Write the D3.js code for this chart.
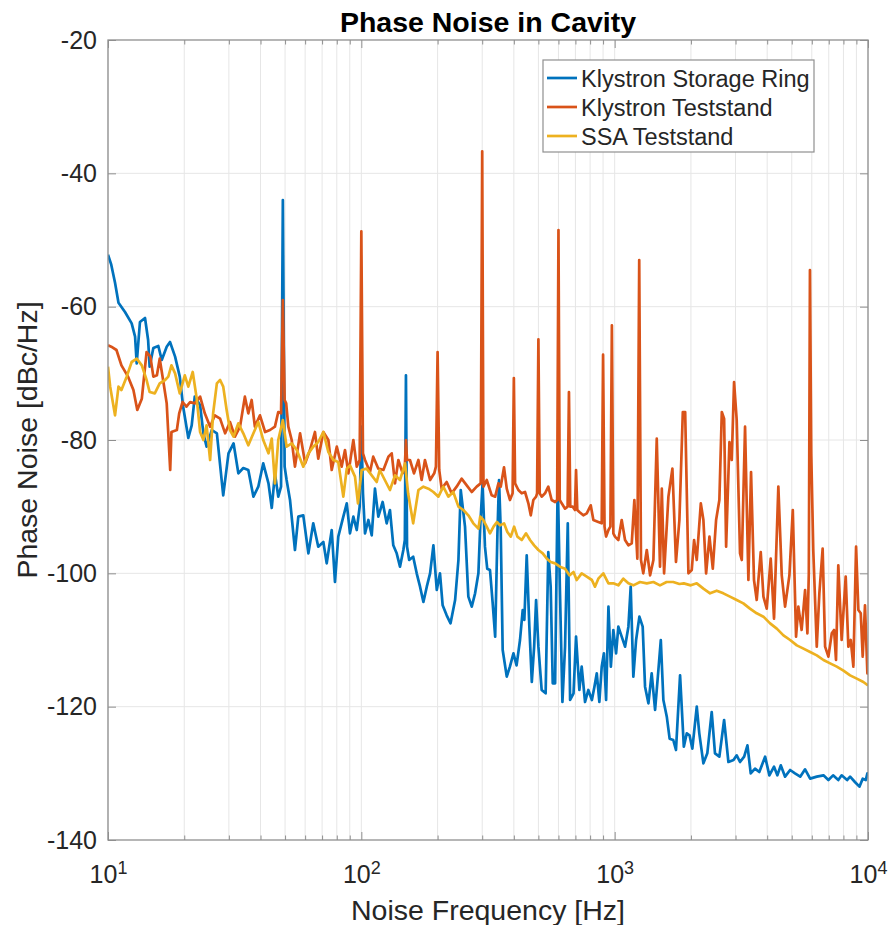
<!DOCTYPE html>
<html>
<head>
<meta charset="utf-8">
<script src="https://cdn.jsdelivr.net/npm/d3@7"></script>
<style>
  body { margin: 0; background: #fff; }
  svg { font-family: "Liberation Sans", Arial, Helvetica, sans-serif; }
</style>
</head>
<body>
<div id="chart"></div>
<script>
// frequency [Hz], phase noise [dBc/Hz]
var klystronRing = [
  [10, -52.2], [10.3, -53.7], [10.66, -56.4], [11.0, -59.4], [11.67, -60.8], [12.4, -62.5], [12.79, -64.5],
  [12.98, -68.5], [13.37, -62.3], [14.0, -61.7], [14.4, -65], [14.6, -69], [15.1, -66.2], [15.8, -65.9],
  [16.3, -68], [17.05, -66], [17.57, -65.3], [18.4, -67.5], [19.2, -70.5], [19.8, -75], [20.75, -79.7],
  [21.4, -77.8], [22.0, -73.5], [23.1, -74.8], [23.8, -79], [24.5, -81], [25.7, -78.5], [26.9, -79],
  [28.5, -88.3], [29.9, -82], [31.3, -80.5], [32.7, -85], [34.2, -84.2], [35.8, -84.5], [37.5, -88.5],
  [39.2, -87], [41.0, -83.5], [43.0, -86.5], [44.3, -90.2], [45.6, -85], [47.0, -88.5], [48.2, -87],
  [49, -44], [49.8, -84], [50.7, -86], [52.3, -89], [54.7, -96.5], [56.4, -91.5], [59.0, -91.3],
  [61.8, -97], [64.6, -92.5], [67.6, -96], [70.8, -95.3], [73.0, -98.5], [76.4, -93.5], [78.7, -101.3],
  [81.1, -94.5], [84.9, -91.5], [87.6, -89.5], [90.2, -94], [93.0, -91.5], [95.9, -93.5], [98.5, -90],
  [100, -78], [101.5, -88], [103.4, -94], [106.6, -92], [109.9, -94.3], [113.2, -87.3], [116.7, -91.5],
  [121.4, -89.3], [125.9, -92.5], [129.7, -90.5], [133.7, -95.8], [137.9, -97], [142.1, -99], [146.5, -96.5],
  [148.5, -95], [150, -70.3], [151.5, -96], [154.5, -98], [160.2, -97.5], [165.4, -100], [170.5, -102],
  [175.8, -104.3], [181.3, -102], [186.8, -100], [192.5, -95.8], [198.5, -102.5], [204.4, -100], [209.4, -104.8],
  [217.2, -106.3], [225, -107.5], [234.5, -104], [241.7, -98], [246.8, -87.5], [256.6, -93], [264.5, -103.5],
  [272.8, -105], [281.2, -103], [289.8, -100], [294.6, -93], [301, -86.5], [307.6, -96], [314, -99.3],
  [322, -99.5], [330, -104.5], [337.5, -109.5], [344.5, -94], [349.6, -86], [355, -93.5], [361.4, -111.5],
  [375, -115.5], [386, -114], [398.5, -112], [410, -113.8], [423, -110], [433.5, -105.5], [440, -107],
  [449.6, -97.3], [460.5, -108], [470.9, -116.3], [481, -111], [489.6, -104], [500, -111], [515, -117.5],
  [534, -118], [547, -96.8], [559, -102], [569.6, -116.5], [582, -116.5], [596, -86], [608, -102.5],
  [622, -119.3], [637, -111], [653, -92.5], [667, -119], [688, -118], [704, -109.5], [725.5, -117.5],
  [741, -114], [764, -119.3], [787, -117.5], [813, -119], [832, -117], [850, -115], [870, -119.3],
  [889, -114], [907, -112], [925, -119], [945, -105], [966, -114], [988, -108.5], [1013, -112],
  [1034, -108], [1066, -109.5], [1099, -111], [1133, -108], [1157, -102], [1185, -115.5], [1215, -110],
  [1252, -106.5], [1290, -108], [1318, -117], [1359, -119.5], [1400, -115], [1444, -120.5], [1488, -114.5],
  [1521, -110], [1557, -119], [1606, -121.5], [1648, -124.8], [1703, -125], [1746, -126.5], [1812, -115.3],
  [1875, -126], [1926, -124], [1975, -124.3], [2026, -126.3], [2109, -120], [2158, -124], [2240, -128.5],
  [2321, -127], [2416, -120.8], [2489, -127], [2590, -127.5], [2704, -122], [2812, -128.3], [2945, -128],
  [3032, -127.3], [3125, -128.3], [3245, -127.5], [3343, -125.8], [3444, -130], [3581, -129.3], [3723, -129.8],
  [3925, -127.5], [4080, -130.3], [4257, -129], [4387, -130.3], [4525, -128.8], [4706, -130.5], [4927, -129.5],
  [5150, -130], [5400, -130.5], [5645, -129.4], [5910, -130.8], [6280, -130.5], [6672, -130.3], [6977, -131],
  [7280, -130.3], [7634, -131], [7870, -130.3], [8270, -131], [8500, -130.5], [8880, -131.3], [9250, -132],
  [9530, -130.8], [9800, -131], [9945, -130], [10000, -130.5]
];

var klystronTeststand = [
  [10, -65.8], [10.3, -66], [10.8, -66.5], [11.3, -68.8], [12.0, -70.5], [12.6, -72.5], [13.05, -75.5],
  [13.6, -73.8], [14.2, -66.8], [14.7, -67.5], [15.1, -70.5], [15.6, -70.3], [16.0, -67.8], [16.5, -71],
  [17.05, -74.5], [17.6, -84.5], [17.8, -78.8], [18.7, -78.5], [19.1, -76], [19.7, -74.3], [20.4, -75],
  [21.1, -74.3], [22.0, -74.5], [23.1, -73.5], [24.1, -76], [25.3, -78], [26.4, -76.3], [27.7, -76.8],
  [29.0, -79], [30.3, -77.3], [31.7, -79.5], [33.2, -78], [34.7, -73.5], [35.8, -76], [36.9, -74],
  [38.0, -78], [39.8, -76.3], [41.7, -78.8], [43.6, -78.5], [45.6, -78], [47.0, -75.8], [48.2, -76],
  [49, -59], [49.8, -74], [50.5, -74.5], [51.5, -78], [53.1, -80], [54.7, -84], [57.3, -79],
  [60.0, -83.5], [62.7, -81.5], [65.6, -78.8], [67.6, -82.8], [70.8, -78.8], [74.1, -80], [76.4, -84.5],
  [80.0, -81], [83.6, -84], [86.2, -81.5], [88.9, -85], [93.0, -80], [95.9, -84], [98.5, -83],
  [100, -48.7], [101.5, -82], [103.4, -83], [108.2, -84.8], [111.4, -82.5], [116.7, -84.3], [122.2, -84.5],
  [127.9, -82.5], [131.8, -82], [135.8, -86.5], [140.0, -83], [145.6, -85], [148.5, -84], [150, -80],
  [151.5, -83], [155.6, -83], [161.4, -85], [168.0, -83], [173.0, -86], [178.3, -83], [186.8, -86],
  [194, -85], [197, -84], [200, -66.8], [203, -84.5], [207.5, -87.3], [217.2, -86.3], [227.3, -88],
  [237.8, -87], [248.8, -85.8], [260.6, -86.8], [272.8, -87.8], [285.3, -87], [296, -86.5], [300, -36.7],
  [303.5, -87], [312.6, -86], [327, -88.3], [337.5, -88.5], [347.7, -86.5], [355, -87], [365.8, -84.1],
  [375, -87.3], [386, -89], [395.5, -88], [400, -70.7], [404.5, -86.5], [416.8, -87.5], [429.7, -88],
  [442.8, -87.8], [456.4, -89.5], [466.5, -91.3], [477.5, -89], [489.6, -88.5], [494, -88], [500, -64.9],
  [506, -88], [515, -88.5], [531, -88], [547, -87], [564, -89], [582, -89.3], [593, -89],
  [600, -48.5], [607, -89], [618, -89.5], [637, -90.3], [652, -90], [660, -72.8], [668, -90],
  [683, -90], [697, -90.5], [704, -84.5], [712, -90.5], [725.5, -90.8], [752, -91.3], [776, -91],
  [804.5, -89.8], [824, -92], [862, -92.3], [889, -92.5], [900, -67.2], [912, -93], [925, -94.5],
  [945, -93.5], [962, -93], [975, -62.8], [988, -94], [1003, -94.5], [1034, -95], [1066, -92],
  [1099, -95], [1133, -95.8], [1168, -95.5], [1196, -89], [1229, -97.8], [1250, -53], [1270, -98],
  [1297, -100], [1339, -96.5], [1380, -100.3], [1422, -98], [1466, -79.8], [1510, -99], [1535, -87.3],
  [1567, -100], [1630, -88.5], [1690, -84.3], [1746, -98.3], [1801, -92], [1858, -75.8], [1898, -75.8],
  [1955, -100], [2015, -99.5], [2058, -95], [2109, -98], [2188, -89.5], [2240, -92], [2296, -100],
  [2367, -94.5], [2440, -99.3], [2514, -92], [2590, -89], [2648, -75.8], [2704, -76.8], [2754, -96],
  [2838, -80.3], [2899, -83], [2960, -71.3], [3032, -77], [3125, -97], [3175, -98], [3271, -78],
  [3372, -101], [3454, -84.8], [3548, -101], [3637, -104], [3772, -96.8], [3866, -103.5], [3984, -105.3],
  [4130, -97.8], [4257, -106.8], [4427, -87], [4566, -100.3], [4706, -105], [4895, -100.3], [5048, -90.5],
  [5200, -109.5], [5310, -105], [5470, -108.5], [5645, -102.5], [5765, -109], [5840, -100], [5900, -54.5],
  [5970, -82], [6080, -96.5], [6277, -111], [6427, -103], [6622, -96.3], [6771, -111], [6977, -112.5],
  [7194, -109], [7347, -108.5], [7477, -113], [7634, -98.8], [7870, -110], [8165, -100.5], [8364, -111],
  [8550, -110], [8755, -114], [8973, -96], [9161, -105.5], [9363, -106], [9530, -112.5], [9730, -104.8],
  [9945, -115], [10000, -113.8]
];

var ssaTeststand = [
  [10, -69], [10.2, -72], [10.66, -76.3], [11.0, -72], [11.3, -72.5], [11.85, -70.5], [12.4, -68.3],
  [12.98, -67.8], [13.6, -68.8], [14.2, -71], [14.6, -72.8], [15.3, -73], [16.0, -71.5], [16.8, -71],
  [17.3, -70.5], [17.8, -68.8], [18.4, -70], [19.2, -73], [20.1, -70.3], [20.75, -72], [21.6, -69.8],
  [22.4, -73.8], [23.1, -78.8], [23.8, -80], [24.5, -77.8], [25.3, -83], [26.0, -76], [26.9, -71.5],
  [27.7, -71], [28.5, -72], [29.4, -75.5], [30.3, -78.5], [31.3, -79.5], [32.7, -77.5], [34.2, -79],
  [35.8, -80.8], [37.5, -79], [39.2, -77.3], [41.0, -80], [43.0, -82], [44.3, -79.8], [45.6, -86.5],
  [47.0, -80], [49, -77], [50.7, -81], [53.1, -80.5], [55.6, -81.5], [59.0, -84], [61.8, -82],
  [64.6, -81], [67.6, -80.3], [70.8, -78.8], [74.1, -81.8], [77.6, -83], [81.1, -83.3], [84.9, -88.5],
  [87.6, -84.3], [90.2, -83.8], [94.4, -85.5], [97.0, -89.5], [100.3, -84.5], [104.9, -84.3], [109.9, -85.3],
  [115.0, -86.3], [118.2, -84.5], [123.8, -86], [129.7, -87.5], [135.8, -85.3], [142.1, -86], [148.8, -83.5],
  [153.0, -88], [160.2, -92.5], [168.0, -87.5], [175.8, -87], [184.0, -87.3], [192.5, -87.8], [201.5, -88.5],
  [210.6, -87], [220.5, -88.5], [230.6, -87.8], [241.7, -90], [252.7, -90.5], [264.5, -91.3], [276.7, -92.5],
  [289.8, -93.3], [294.6, -91.5], [303, -92], [312.6, -93], [322, -94], [332.6, -93], [343, -92.3],
  [352.8, -92.8], [365.8, -92.5], [377, -93.8], [389, -94.5], [401, -93], [413, -94.5], [429.7, -95],
  [447, -94], [463.4, -95], [481, -95.8], [500, -96.5], [520, -97], [540, -97.8], [559, -98.3],
  [582, -98.5], [608, -99], [637, -99.3], [663, -100.3], [688, -99.8], [708, -101], [741, -100],
  [776, -100.5], [813, -101], [836, -102], [862, -100.8], [902, -100], [945, -101.5], [988, -101.5],
  [1034, -101.8], [1082, -100.8], [1133, -101.5], [1185, -101.8], [1259, -101.3], [1339, -101.5], [1422, -101.3],
  [1510, -101.8], [1603, -101.3], [1703, -101.3], [1801, -101.6], [1875, -101.5], [1998, -101.8], [2109, -101.5],
  [2240, -102.3], [2380, -103], [2528, -102.6], [2686, -103], [2852, -103.5], [3032, -104], [3220, -104.5],
  [3420, -105.3], [3637, -106], [3866, -106.5], [4107, -107.5], [4365, -108.3], [4637, -109.3], [4927, -110],
  [5236, -110.8], [5563, -111.3], [5910, -111.8], [6280, -112.3], [6672, -113], [7088, -113.5], [7530, -114],
  [8000, -114.6], [8500, -115.3], [9030, -115.8], [9590, -116.3], [10000, -116.8]
];

var seriesNames = ["Klystron Storage Ring", "Klystron Teststand", "SSA Teststand"];
var seriesColors = ["#0072BD", "#D95319", "#EDB120"];
var xTickValues = [10, 100, 1000, 10000];
var yTickValues = [-140, -120, -100, -80, -60, -40, -20];

var W = 891, H = 925;
var plotL = 108, plotR = 868, plotT = 40, plotB = 840;
var axisColor = "#8f8f8f", textColor = "#262626", gridColor = "#e6e6e6";

var svg = d3.select("#chart").append("svg").attr("width", W).attr("height", H);

var x = d3.scaleLog().domain([10, 10000]).range([plotL, plotR]);
var y = d3.scaleLinear().domain([-140, -20]).range([plotB, plotT]);
var minorTicks = x.ticks().filter(function(d){ return xTickValues.indexOf(d) < 0; });

// grid
var grid = svg.append("g");
grid.selectAll("line.gx")
  .data(x.ticks())
  .enter().append("line")
    .attr("x1", function(d){ return x(d); }).attr("x2", function(d){ return x(d); })
    .attr("y1", plotT).attr("y2", plotB)
    .attr("stroke", gridColor).attr("stroke-width", 1);
grid.selectAll("line.gy")
  .data(yTickValues.slice(1, -1))
  .enter().append("line")
    .attr("x1", plotL).attr("x2", plotR)
    .attr("y1", function(d){ return y(d); }).attr("y2", function(d){ return y(d); })
    .attr("stroke", gridColor).attr("stroke-width", 1);

// lines
svg.append("clipPath").attr("id", "clip")
  .append("rect").attr("x", plotL).attr("y", plotT).attr("width", plotR - plotL).attr("height", plotB - plotT);

var line = d3.line()
  .x(function(d){ return x(d[0]); })
  .y(function(d){ return y(d[1]); });

svg.append("g").attr("clip-path", "url(#clip)")
  .selectAll("path")
  .data([klystronRing, klystronTeststand, ssaTeststand])
  .enter().append("path")
    .attr("d", line)
    .attr("fill", "none")
    .attr("stroke", function(d, i){ return seriesColors[i]; })
    .attr("stroke-width", 2.7)
    .attr("stroke-linejoin", "round");

// axes
function styleAxis(g) {
  g.select(".domain").remove();
  g.selectAll(".tick line").attr("stroke", axisColor);
  g.selectAll(".tick text").attr("fill", textColor).attr("font-size", 25);
}

svg.append("g").attr("transform", "translate(0," + plotB + ")")
  .call(d3.axisBottom(x).tickValues(minorTicks).tickSizeInner(-4.5).tickSizeOuter(0).tickFormat(""))
  .call(styleAxis);
svg.append("g").attr("transform", "translate(0," + plotT + ")")
  .call(d3.axisTop(x).tickValues(minorTicks).tickSizeInner(-4.5).tickSizeOuter(0).tickFormat(""))
  .call(styleAxis);
svg.append("g").attr("transform", "translate(0," + plotT + ")")
  .call(d3.axisTop(x).tickValues(xTickValues).tickSizeInner(-8).tickSizeOuter(0).tickFormat(""))
  .call(styleAxis);

var gx = svg.append("g").attr("transform", "translate(0," + plotB + ")")
  .call(d3.axisBottom(x).tickValues(xTickValues).tickSizeInner(-8).tickSizeOuter(0).tickPadding(25))
  .call(styleAxis);
gx.selectAll(".tick text").text(null).each(function(d){
  var t = d3.select(this);
  t.append("tspan").text("10");
  t.append("tspan").attr("dy", "-0.5em").attr("font-size", 18).text(Math.round(Math.log10(d)));
});

svg.append("g").attr("transform", "translate(" + plotL + ",0)")
  .call(d3.axisLeft(y).tickValues(yTickValues).tickSizeInner(-8).tickSizeOuter(0).tickPadding(11)
    .tickFormat(function(d){ return String(d); }))
  .call(styleAxis);
svg.append("g").attr("transform", "translate(" + plotR + ",0)")
  .call(d3.axisRight(y).tickValues(yTickValues).tickSizeInner(-8).tickSizeOuter(0).tickFormat(""))
  .call(styleAxis);

svg.append("rect")
  .attr("x", plotL).attr("y", plotT).attr("width", plotR - plotL).attr("height", plotB - plotT)
  .attr("fill", "none").attr("stroke", axisColor).attr("stroke-width", 1.3);

// texts
svg.append("text")
  .attr("x", (plotL + plotR) / 2).attr("y", 32)
  .attr("text-anchor", "middle").attr("font-size", 28.5).attr("font-weight", "bold").attr("fill", "#000")
  .text("Phase Noise in Cavity");
svg.append("text")
  .attr("x", (plotL + plotR) / 2).attr("y", 920)
  .attr("text-anchor", "middle").attr("font-size", 28.5).attr("fill", textColor)
  .text("Noise Frequency [Hz]");
svg.append("text")
  .attr("transform", "translate(37," + (plotT + plotB) / 2 + ") rotate(-90)")
  .attr("text-anchor", "middle").attr("font-size", 28.5).attr("fill", textColor)
  .text("Phase Noise [dBc/Hz]");

// legend
var legend = svg.append("g").attr("transform", "translate(543,60)");
legend.append("rect")
  .attr("width", 271).attr("height", 92)
  .attr("fill", "#fff").attr("stroke", axisColor).attr("stroke-width", 1.2);
var items = legend.selectAll("g.item")
  .data(seriesNames)
  .enter().append("g")
    .attr("transform", function(d, i){ return "translate(0," + (18 + i * 29) + ")"; });
items.append("line")
  .attr("x1", 4).attr("x2", 34).attr("y1", 0).attr("y2", 0)
  .attr("stroke", function(d, i){ return seriesColors[i]; }).attr("stroke-width", 2.7);
items.append("text")
  .attr("x", 38).attr("y", 8.5)
  .attr("font-size", 23.5).attr("fill", textColor)
  .text(function(d){ return d; });
</script>
</body>
</html>
